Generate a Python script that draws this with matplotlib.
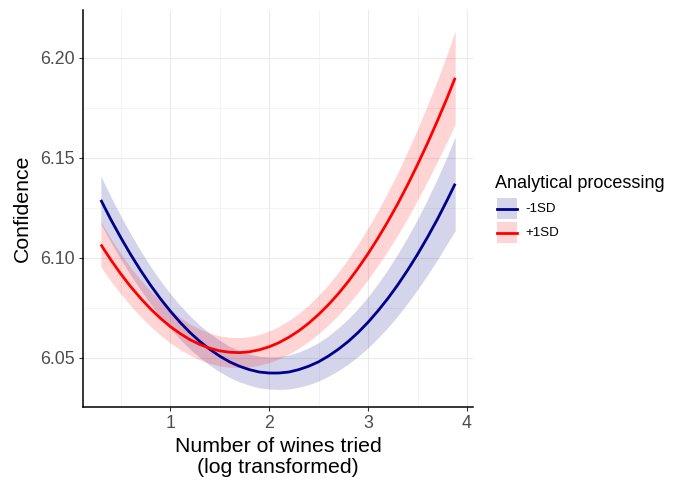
import numpy as np
import matplotlib
matplotlib.use("Agg")
import matplotlib.pyplot as plt
from matplotlib.lines import Line2D
from matplotlib.patches import Rectangle
from matplotlib.ticker import MultipleLocator

plt.rcParams["font.family"] = ["Liberation Sans", "DejaVu Sans"]

# =========================
# Data
# =========================

wines_log = [0.30, 0.40, 0.50, 0.60, 0.70, 0.80, 0.90, 1.00, 1.10, 1.20,
             1.30, 1.40, 1.50, 1.60, 1.70, 1.80, 1.90, 2.00, 2.10, 2.20,
             2.30, 2.40, 2.50, 2.60, 2.70, 2.80, 2.90, 3.00, 3.10, 3.20,
             3.30, 3.40, 3.50, 3.60, 3.70, 3.80, 3.88]

# -1SD analytical processing: fitted line and half-width of the band
low_fit = [6.1289, 6.1192, 6.1102, 6.1017, 6.0938, 6.0864, 6.0796, 6.0734, 6.0677, 6.0626,
           6.0581, 6.0542, 6.0508, 6.0479, 6.0457, 6.0440, 6.0428, 6.0423, 6.0423, 6.0428,
           6.0440, 6.0457, 6.0479, 6.0508, 6.0542, 6.0581, 6.0626, 6.0677, 6.0734, 6.0796,
           6.0864, 6.0938, 6.1017, 6.1102, 6.1192, 6.1289, 6.1370]
low_ci = [0.0120, 0.0114, 0.0108, 0.0103, 0.0098, 0.0094, 0.0090, 0.0087, 0.0085, 0.0083,
          0.0081, 0.0080, 0.0079, 0.0078, 0.0078, 0.0078, 0.0079, 0.0080, 0.0082, 0.0085,
          0.0088, 0.0092, 0.0096, 0.0101, 0.0107, 0.0113, 0.0120, 0.0128, 0.0136, 0.0145,
          0.0155, 0.0165, 0.0176, 0.0189, 0.0203, 0.0218, 0.0235]

# +1SD analytical processing
high_fit = [6.1066, 6.0990, 6.0920, 6.0856, 6.0798, 6.0745, 6.0698, 6.0656, 6.0621, 6.0590,
            6.0566, 6.0547, 6.0534, 6.0527, 6.0525, 6.0529, 6.0539, 6.0554, 6.0575, 6.0602,
            6.0634, 6.0672, 6.0716, 6.0765, 6.0820, 6.0881, 6.0948, 6.1020, 6.1098, 6.1181,
            6.1270, 6.1365, 6.1466, 6.1572, 6.1684, 6.1801, 6.1900]
high_ci = [0.0113, 0.0107, 0.0101, 0.0096, 0.0092, 0.0088, 0.0085, 0.0082, 0.0080, 0.0078,
           0.0077, 0.0076, 0.0075, 0.0075, 0.0075, 0.0076, 0.0077, 0.0079, 0.0081, 0.0084,
           0.0087, 0.0091, 0.0096, 0.0101, 0.0107, 0.0114, 0.0121, 0.0129, 0.0137, 0.0146,
           0.0156, 0.0167, 0.0178, 0.0190, 0.0204, 0.0219, 0.0234]

groups = ["-1SD", "+1SD"]
colors = ["#00008B", "#FF0000"]
ribbon_alpha = 0.17

# =========================
# Figure
# =========================

W, H = 673, 480
fig = plt.figure(figsize=(W / 100, H / 100), dpi=100)
ax = fig.add_axes([83 / W, 1 - 407 / H, 390 / W, 397 / H])

x = np.array(wines_log)
series = [(low_fit, low_ci, colors[0]), (high_fit, high_ci, colors[1])]
for fit, ci, col in series:
    fit = np.array(fit)
    ci = np.array(ci)
    ax.fill_between(x, fit - ci, fit + ci, color=col, alpha=ribbon_alpha, linewidth=0)
for fit, ci, col in series:
    ax.plot(x, fit, color=col, linewidth=2.0, solid_capstyle="butt")

ax.set_xlim(0.12, 4.06)
ax.set_ylim(6.0253, 6.2239)
ax.xaxis.set_major_locator(MultipleLocator(1))
ax.xaxis.set_minor_locator(MultipleLocator(0.5))
ax.yaxis.set_major_locator(MultipleLocator(0.05))
ax.yaxis.set_minor_locator(MultipleLocator(0.025))
ax.yaxis.set_major_formatter(plt.FormatStrFormatter("%.2f"))

ax.grid(True, which="major", color="#EBEBEB", linewidth=0.8)
ax.grid(True, which="minor", color="#F2F2F2", linewidth=0.6)
ax.set_axisbelow(True)

for side in ["top", "right"]:
    ax.spines[side].set_visible(False)
for side in ["left", "bottom"]:
    ax.spines[side].set_color("black")
    ax.spines[side].set_linewidth(1.1)

ax.tick_params(which="major", length=3, width=0.8, color="#333333",
               labelsize=12.8, labelcolor="#4D4D4D", pad=3)
ax.tick_params(which="minor", length=0)

ax.set_xlabel("Number of wines tried\n(log transformed)", fontsize=15.3,
              color="black", labelpad=3, linespacing=1.15)
ax.set_ylabel("Confidence", fontsize=15.3, color="black", labelpad=6)

# =========================
# Legend (drawn by hand, ggplot style)
# =========================

def fx(px):
    return px / W

def fy(py):
    return 1 - py / H

fig.text(fx(495), fy(188), "Analytical processing", fontsize=13,
         color="black", ha="left", va="baseline")

key_tops = [198, 222]
key_h = 21
for top, col, lab in zip(key_tops, colors, groups):
    fig.add_artist(Rectangle((fx(496.5), fy(top + key_h)), 20 / W, key_h / H,
                             transform=fig.transFigure, facecolor=col,
                             alpha=ribbon_alpha, edgecolor="none"))
    mid = top + key_h / 2
    fig.add_artist(Line2D([fx(496.5), fx(516.5)], [fy(mid), fy(mid)],
                          transform=fig.transFigure, color=col, linewidth=2.0))
    fig.text(fx(525.5), fy(mid), lab, fontsize=9.6, color="black",
             ha="left", va="center")

fig.savefig("out.png", dpi=100)
